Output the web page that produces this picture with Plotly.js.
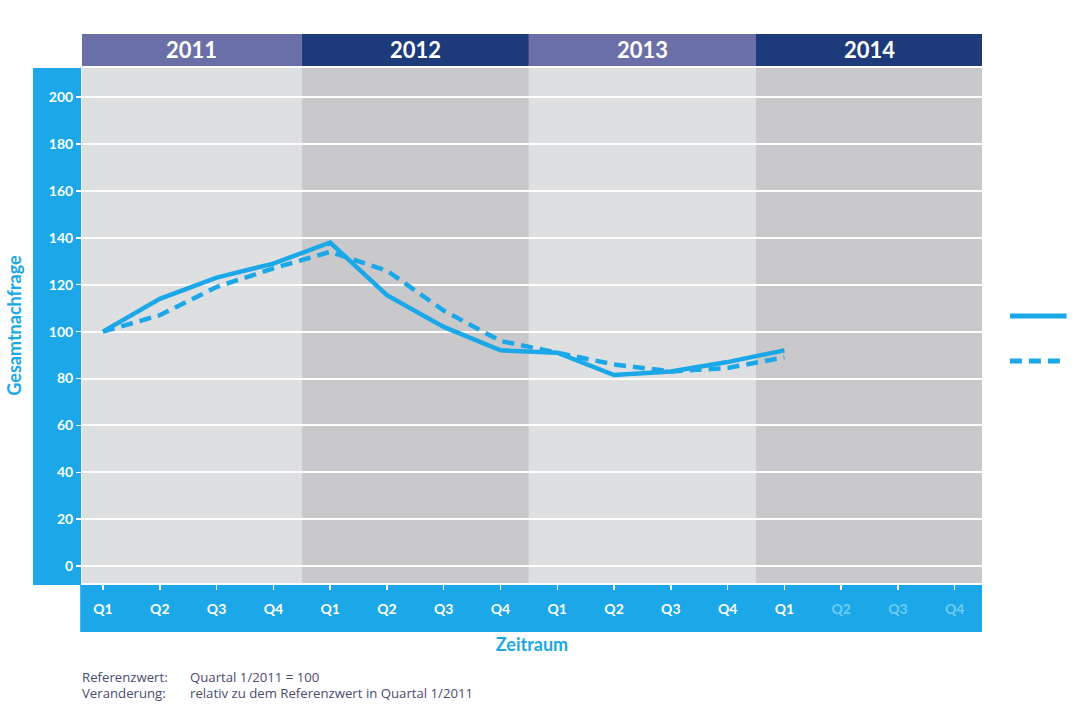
<!DOCTYPE html>
<html>
<head>
<meta charset="utf-8">
<script src="https://cdn.plot.ly/plotly-3.0.1.min.js"></script>
<style>html,body{margin:0;padding:0;background:#fff;}#chart{width:1080px;height:720px;}</style>
</head>
<body>
<div id="chart"></div>
<script>
const years = ['2011', '2012', '2013', '2014'];
const quarterLabels = ['Q1','Q2','Q3','Q4','Q1','Q2','Q3','Q4','Q1','Q2','Q3','Q4','Q1','Q2','Q3','Q4'];
const quarterIndex = [0,1,2,3,4,5,6,7,8,9,10,11,12,13,14,15];
const seriesSolid = [100, 114, 123, 129, 138, 115.5, 102, 92, 91, 81.5, 83, 87, 92];
const seriesDashed = [100, 107, 119, 127, 134, 126, 109, 96, 91, 86, 83, 84.5, 89];
const yTicks = [0, 20, 40, 60, 80, 100, 120, 140, 160, 180, 200];

const blue = '#1ba7e8';
const xMin = -0.37, xMax = 15.48;
const headerColors = ['#6b6fa7', '#1d3b7b', '#6b6fa7', '#1d3b7b'];
const bgColors = ['#dedfe0', '#c9c9cb', '#dedfe0', '#c9c9cb'];
const noteFont = {family:'Open Sans, sans-serif', size:13.2, color:'#4b4b70'};

const shapes = [];
const annotations = [];
years.forEach((yr, i) => {
  const x0 = i === 0 ? xMin : i * 4 - 0.5;
  const x1 = i === 3 ? xMax : i * 4 + 3.5;
  shapes.push({type:'rect', xref:'x', yref:'paper', x0:x0, x1:x1, y0:0, y1:1, fillcolor:bgColors[i], line:{width:0}, layer:'below'});
  shapes.push({type:'rect', xref:'x', yref:'paper', x0:x0, x1:x1, y0:1.004, y1:1.066, fillcolor:headerColors[i], line:{width:0}, layer:'below'});
  annotations.push({text:'<b>' + yr + '</b>', xref:'x', yref:'paper', x:(x0 + x1) / 2, y:1.035, showarrow:false, font:{family:'Lato, Open Sans, sans-serif', size:22, color:'#ffffff'}, xanchor:'center', yanchor:'middle'});
});
// y-axis band
shapes.push({type:'rect', xref:'paper', yref:'paper', x0:-0.0544, x1:-0.001, y0:-0.004, y1:1, fillcolor:blue, line:{width:0}, layer:'below'});
// x-axis band
shapes.push({type:'rect', xref:'paper', yref:'paper', x0:-0.002, x1:1, y0:-0.095, y1:-0.004, fillcolor:blue, line:{width:0}, layer:'below'});
// legend lines (no text in reference)
shapes.push({type:'line', xref:'paper', yref:'paper', x0:1.031, x1:1.094, y0:(583-316)/515, y1:(583-316)/515, line:{color:blue, width:5}});
shapes.push({type:'line', xref:'paper', yref:'paper', x0:1.031, x1:1.094, y0:(583-361)/515, y1:(583-361)/515, line:{color:blue, width:5, dash:'12px,7px'}});

annotations.push({text:'Referenzwert:', xref:'paper', yref:'paper', x:-0.002, y:-0.183, xanchor:'left', yanchor:'middle', showarrow:false, font:noteFont});
annotations.push({text:'Quartal 1/2011 = 100', xref:'paper', yref:'paper', x:0.118, y:-0.183, xanchor:'left', yanchor:'middle', showarrow:false, font:noteFont});
annotations.push({text:'Veranderung:', xref:'paper', yref:'paper', x:-0.002, y:-0.213, xanchor:'left', yanchor:'middle', showarrow:false, font:noteFont});
annotations.push({text:'relativ zu dem Referenzwert in Quartal 1/2011', xref:'paper', yref:'paper', x:0.118, y:-0.213, xanchor:'left', yanchor:'middle', showarrow:false, font:noteFont});

const tickText = quarterLabels.map((q, i) => i >= 13 ? '<span style="color:#6fcdf3">' + q + '</span>' : q);

const traces = [
  {x: quarterIndex.slice(0, seriesSolid.length), y: seriesSolid, type:'scatter', mode:'lines', line:{color:blue, width:4.5}, showlegend:false, hoverinfo:'y'},
  {x: quarterIndex.slice(0, seriesDashed.length), y: seriesDashed, type:'scatter', mode:'lines', line:{color:blue, width:4.5, dash:'12px,7px'}, showlegend:false, hoverinfo:'y'}
];

const layout = {
  width:1080, height:720,
  margin:{l:82, r:98, t:68, b:137},
  paper_bgcolor:'#ffffff', plot_bgcolor:'rgba(0,0,0,0)',
  showlegend:false,
  xaxis:{range:[xMin, xMax], tickvals:quarterIndex, ticktext:tickText, showgrid:false, zeroline:false,
    ticks:'outside', ticklen:6, tickwidth:1.5, tickcolor:'#ffffff', ticklabelstandoff:7,
    tickfont:{family:'Lato, Open Sans, sans-serif', size:14, color:'#ffffff', weight:'bold'},
    title:{text:'<b>Zeitraum</b>', font:{family:'Lato, Open Sans, sans-serif', size:18, color:blue}, standoff:22}, fixedrange:true},
  yaxis:{range:[-7.2, 212.4], tickvals:yTicks, showgrid:true, gridcolor:'#ffffff', gridwidth:2, zeroline:false,
    ticks:'outside', ticklen:5, tickwidth:1.5, tickcolor:'#ffffff',
    tickfont:{family:'Lato, Open Sans, sans-serif', size:14, color:'#ffffff', weight:'bold'},
    title:{text:'<b>Gesamtnachfrage</b>', font:{family:'Lato, Open Sans, sans-serif', size:18, color:blue}, standoff:22}, fixedrange:true},
  shapes:shapes,
  annotations:annotations
};

Plotly.newPlot('chart', traces, layout, {displayModeBar:false, staticPlot:true});
</script>
</body>
</html>
